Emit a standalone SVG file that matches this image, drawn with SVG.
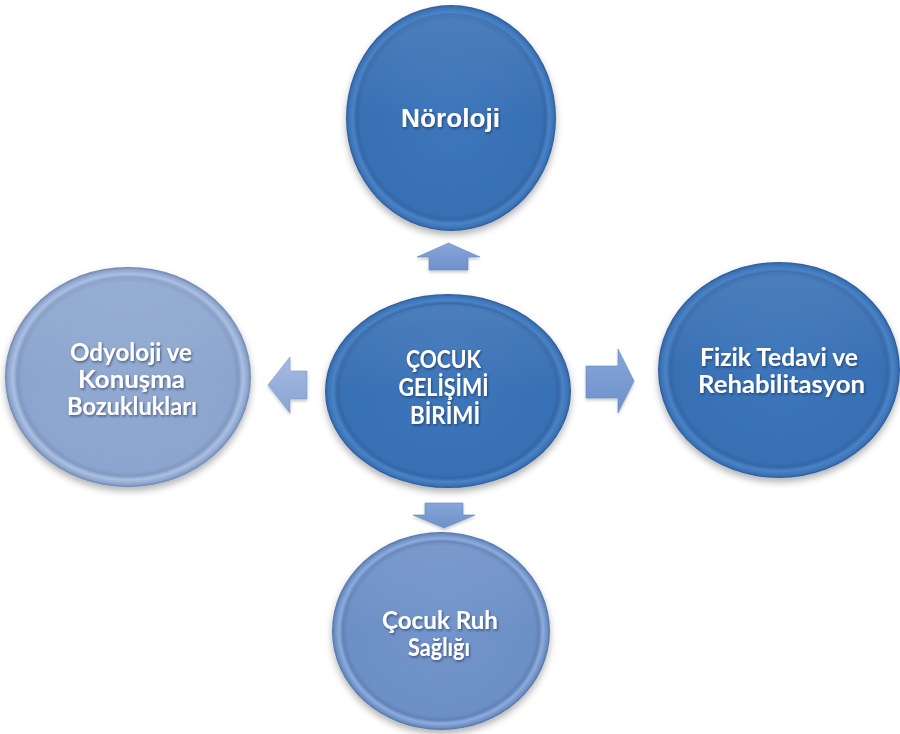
<svg xmlns="http://www.w3.org/2000/svg" width="900" height="734" viewBox="0 0 900 734">
  <defs>
    <radialGradient id="gBlue" cx="0.5" cy="0.5" r="0.5">
      <stop offset="0" stop-color="#3d76bb"/>
      <stop offset="0.86" stop-color="#3870b4"/>
      <stop offset="0.9" stop-color="#3467a8"/>
      <stop offset="0.935" stop-color="#4a83c6"/>
      <stop offset="0.975" stop-color="#3c74b7"/>
      <stop offset="1" stop-color="#2d5b98"/>
    </radialGradient>
    <radialGradient id="gLight" cx="0.5" cy="0.5" r="0.5">
      <stop offset="0" stop-color="#92aad1"/>
      <stop offset="0.86" stop-color="#8ca5ce"/>
      <stop offset="0.9" stop-color="#8199c2"/>
      <stop offset="0.935" stop-color="#abc0e2"/>
      <stop offset="0.975" stop-color="#8fa7cf"/>
      <stop offset="1" stop-color="#6e86ae"/>
    </radialGradient>
    <radialGradient id="gMid" cx="0.5" cy="0.5" r="0.5">
      <stop offset="0" stop-color="#7295cb"/>
      <stop offset="0.86" stop-color="#6c8fc6"/>
      <stop offset="0.9" stop-color="#6182b8"/>
      <stop offset="0.935" stop-color="#8eacdc"/>
      <stop offset="0.975" stop-color="#6e90c6"/>
      <stop offset="1" stop-color="#5573a3"/>
    </radialGradient>
    <linearGradient id="gArrow" x1="0" y1="0" x2="0" y2="1">
      <stop offset="0" stop-color="#86a6d8"/>
      <stop offset="1" stop-color="#6d91cb"/>
    </linearGradient>
    <linearGradient id="gArrowL" x1="0" y1="0" x2="0" y2="1">
      <stop offset="0" stop-color="#a5bbe0"/>
      <stop offset="1" stop-color="#89a4d2"/>
    </linearGradient>
    <linearGradient id="hl" x1="0" y1="0" x2="0" y2="1">
      <stop offset="0" stop-color="#ffffff" stop-opacity="0.1"/>
      <stop offset="0.5" stop-color="#ffffff" stop-opacity="0"/>
    </linearGradient>
    <filter id="sh" x="-15%" y="-15%" width="130%" height="135%">
      <feDropShadow dx="0" dy="4" stdDeviation="3.5" flood-color="#000000" flood-opacity="0.3"/>
    </filter>
    <filter id="ash" x="-20%" y="-20%" width="140%" height="150%">
      <feDropShadow dx="0" dy="2" stdDeviation="1.5" flood-color="#000000" flood-opacity="0.22"/>
    </filter>
    <filter id="ts" x="-10%" y="-20%" width="120%" height="150%">
      <feDropShadow dx="1" dy="1.5" stdDeviation="1" flood-color="#13233f" flood-opacity="0.55"/>
    </filter>
  </defs>
  <style>
    .lbl { fill: #ffffff; font-family: Lato, "Open Sans", "Liberation Sans", sans-serif; font-weight: 700; font-size: 25px; text-anchor: middle; filter: url(#ts); }
    text.sm { font-size: 24px; }
    text.arial { font-family: "Liberation Sans", Arial, sans-serif; font-size: 26px; }
    .hl { fill: url(#hl); }
  </style>
  <rect width="900" height="734" fill="#ffffff"/>

  <g id="connectors">
    <polygon filter="url(#ash)" fill="url(#gArrow)" stroke="#6688bf" stroke-width="0.6" points="448.5,243 480,257 468,257 468,270 429,270 429,257 417,257"/>
    <polygon filter="url(#ash)" fill="url(#gArrow)" stroke="#6688bf" stroke-width="0.6" points="425,503 463,503 463,515 475,515 444,528 413,515 425,515"/>
    <polygon filter="url(#ash)" fill="url(#gArrowL)" stroke="#7c97c6" stroke-width="0.6" points="268,385 290,357 290,371 307,371 307,399 290,399 290,413"/>
    <polygon filter="url(#ash)" fill="url(#gArrow)" stroke="#6688bf" stroke-width="0.6" points="586,366 618,366 618,349 634,381 618,413 618,398 586,398"/>
  </g>

  <g id="node-noroloji">
    <ellipse filter="url(#sh)" cx="451" cy="118" rx="105" ry="113" fill="url(#gBlue)"/>
    <ellipse class="hl" cx="451" cy="118" rx="95" ry="103"/>
    <text class="lbl arial" x="450.5" y="127" textLength="99" lengthAdjust="spacingAndGlyphs">Nöroloji</text>
  </g>

  <g id="node-center">
    <ellipse filter="url(#sh)" cx="448" cy="391" rx="123" ry="97" fill="url(#gBlue)"/>
    <ellipse class="hl" cx="448" cy="391" rx="112" ry="87"/>
    <text class="lbl" x="443.5" y="368" textLength="75" lengthAdjust="spacingAndGlyphs">ÇOCUK</text>
    <text class="lbl" x="443.5" y="396" textLength="90" lengthAdjust="spacingAndGlyphs">GELİŞİMİ</text>
    <text class="lbl" x="445" y="424" textLength="70" lengthAdjust="spacingAndGlyphs">BİRİMİ</text>
  </g>

  <g id="node-odyoloji">
    <ellipse filter="url(#sh)" cx="128" cy="377" rx="123" ry="110" fill="url(#gLight)"/>
    <ellipse class="hl" cx="128" cy="377" rx="112" ry="100"/>
    <text class="lbl sm" x="131" y="361" textLength="122" lengthAdjust="spacingAndGlyphs">Odyoloji ve</text>
    <text class="lbl sm" x="131.5" y="388" textLength="107" lengthAdjust="spacingAndGlyphs">Konuşma</text>
    <text class="lbl sm" x="132" y="415" textLength="130" lengthAdjust="spacingAndGlyphs">Bozuklukları</text>
  </g>

  <g id="node-fizik">
    <ellipse filter="url(#sh)" cx="779" cy="370" rx="121" ry="108" fill="url(#gBlue)"/>
    <ellipse class="hl" cx="779" cy="370" rx="110" ry="98"/>
    <text class="lbl" x="779" y="366" textLength="158" lengthAdjust="spacingAndGlyphs">Fizik Tedavi ve</text>
    <text class="lbl" x="781.5" y="393" textLength="167" lengthAdjust="spacingAndGlyphs">Rehabilitasyon</text>
  </g>

  <g id="node-ruh">
    <ellipse filter="url(#sh)" cx="441" cy="631" rx="109" ry="99" fill="url(#gMid)"/>
    <ellipse class="hl" cx="441" cy="631" rx="99" ry="89"/>
    <text class="lbl sm" x="440" y="629" textLength="116" lengthAdjust="spacingAndGlyphs">Çocuk Ruh</text>
    <text class="lbl sm" x="439" y="656" textLength="62" lengthAdjust="spacingAndGlyphs">Sağlığı</text>
  </g>
</svg>
